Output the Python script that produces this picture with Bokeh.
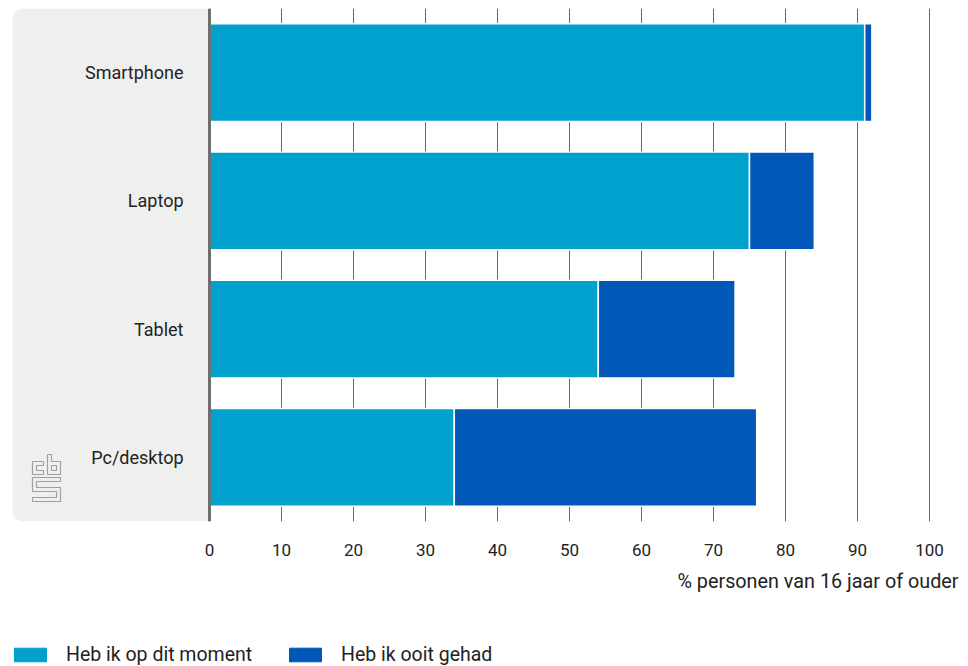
from bokeh.plotting import figure
from bokeh.layouts import column
from bokeh.models import (FactorRange, Range1d, FixedTicker, Span, BoxAnnotation,
                          Title, Legend, LegendItem, ColumnDataSource)
from bokeh.core.properties import value
from bokeh.embed import file_html
from bokeh.resources import INLINE

# ---- data ----
categories = ["Smartphone", "Laptop", "Tablet", "Pc/desktop"]
heb_nu = [91, 75, 54, 34]          # Heb ik op dit moment
ooit_gehad = [1, 9, 19, 42]        # Heb ik ooit gehad (additional)
series_names = ["Heb ik op dit moment", "Heb ik ooit gehad"]
x_ticks = [0, 10, 20, 30, 40, 50, 60, 70, 80, 90, 100]
x_title = "% personen van 16 jaar of ouder"

FONT = "Roboto"
C_NU = "#00a1cd"
C_OOIT = "#0058b8"
TXT = "#222222"

W = 968
H1, H2 = 610, 56
TOP = 8
BOTTOM = 521
FRAME_H = BOTTOM - TOP
PX_PER_UNIT = 7.2
ZERO_PX = 209  # page x of value 0

def dx(px):
    return (px - ZERO_PX) / PX_PER_UNIT

def dy(py):
    return (BOTTOM - py) / (FRAME_H / 4)

src = ColumnDataSource(dict(cat=categories, nu=heb_nu, ooit=ooit_gehad))

p = figure(width=W, height=H1, output_backend="svg", toolbar_location=None,
           y_range=FactorRange(*reversed(categories)),
           x_range=Range1d(-ZERO_PX / PX_PER_UNIT, (W - ZERO_PX) / PX_PER_UNIT),
           min_border_left=0, min_border_right=0, min_border_top=TOP,
           min_border_bottom=H1 - BOTTOM)
p.outline_line_color = None
p.background_fill_color = "white"
p.border_fill_color = "white"

# gray side panel
panel = BoxAnnotation(left=dx(12), right=0, fill_color="#efefef", fill_alpha=1,
                      line_color=None, level="underlay",
                      border_radius=dict(top_left=10, bottom_left=10, top_right=0, bottom_right=0))
p.add_layout(panel)

rs = p.hbar_stack(["nu", "ooit"], y="cat", height=0.764, color=[C_NU, C_OOIT],
                  source=src, line_color="white", line_width=1.5)

# axes / grid
p.yaxis.visible = False
p.ygrid.visible = False
p.xaxis.ticker = FixedTicker(ticks=x_ticks)
p.xgrid.ticker = FixedTicker(ticks=x_ticks)
p.xgrid.grid_line_color = "#666666"
p.xgrid.grid_line_width = 1
p.xaxis.axis_line_color = None
p.xaxis.major_tick_line_color = None
p.xaxis.minor_tick_line_color = None
p.xaxis.major_tick_out = 0
p.xaxis.major_tick_in = 0
p.xaxis.major_label_standoff = 22
p.xaxis.major_label_text_font = FONT
p.xaxis.major_label_text_font_size = "17px"
p.xaxis.major_label_text_color = TXT

zero_line = Span(location=0, dimension="height", line_color="#6e6e6e", line_width=3)
p.add_layout(zero_line)

# category labels
p.text(x=[dx(183)] * len(categories), y=categories, text=categories,
       text_align="right", text_baseline="middle", text_font=value(FONT),
       text_font_size="18px", text_color=TXT)

# axis title
p.add_layout(Title(text=x_title, align="right", offset=10, standoff=18,
                   text_font=FONT, text_font_size="19.8px", text_font_style="normal",
                   text_color=TXT), "below")

# cbs logo (decorative)
c_shape = [(43,461),(32,461),(32,474),(43,474),(43,470),(36,470),(36,465),(43,465),(43,461)]
b_shape = [(47,454),(51,454),(51,461),(60,461),(60,474),(47,474),(47,454)]
b_inner = [(51,465),(56,465),(56,470),(51,470),(51,465)]
s_shape = [(32,477),(60,477),(60,481),(36,481),(36,487),(60,487),(60,501),(32,501),
           (32,497),(56,497),(56,491),(32,491),(32,477)]
shapes = [c_shape, b_shape, b_inner, s_shape]
p.multi_line(xs=[[dx(a) for a, b in s] for s in shapes],
             ys=[[dy(b) for a, b in s] for s in shapes],
             line_color="#a0a0a0", line_width=1.2)

# legend figure
q = figure(width=W, height=H2, output_backend="svg", toolbar_location=None,
           x_axis_location=None, y_axis_location=None,
           x_range=Range1d(0, 1), y_range=Range1d(0, 1),
           min_border_left=0, min_border_right=0, min_border_top=0, min_border_bottom=0)
q.outline_line_color = None
q.xgrid.visible = False
q.ygrid.visible = False
# off-screen proxies so the legend can draw its swatches
proxy = ColumnDataSource(dict(x=[-10], y=[-10]))
r1 = q.rect(x="x", y="y", width=1, height=1, color=C_NU, source=proxy)
r2 = q.rect(x="x", y="y", width=1, height=1, color=C_OOIT, source=proxy)
legend = Legend(items=[LegendItem(label=series_names[0], renderers=[r1]),
                       LegendItem(label=series_names[1], renderers=[r2])],
                orientation="horizontal", location=(10, 0),
                glyph_width=40, glyph_height=17, label_standoff=16, label_width=219,
                spacing=0, padding=0, margin=0, border_line_color=None,
                background_fill_alpha=0, label_text_font=FONT,
                label_text_font_size="19.5px", label_text_color=TXT,
                label_height=17)
q.add_layout(legend)

layout = column(p, q, spacing=0)
open("out.html", "w").write(file_html(layout, INLINE))
